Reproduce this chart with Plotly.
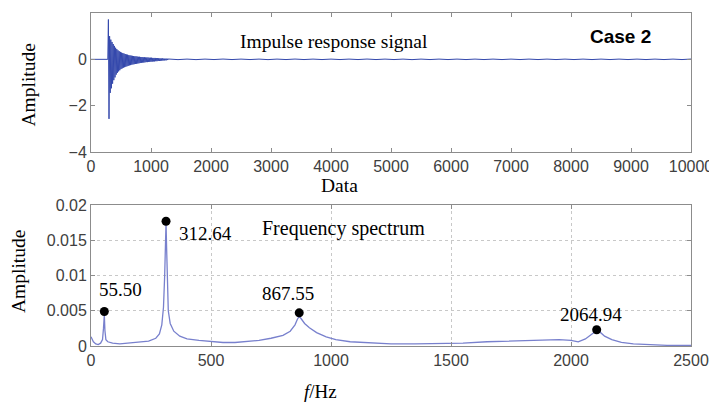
import plotly.graph_objects as go
from plotly.subplots import make_subplots

# ---------------- Impulse response signal (top) ----------------
pre_x = [0, 280]
pre_y = [0.0, 0.0]
burst_x = list(range(290, 1300, 10))
burst_y = [1.72, -2.57, 1.00, -1.45, 0.85, -1.25, 0.75, -1.05, 0.66, -0.90,
           0.58, -0.78, 0.50, -0.66, 0.44, -0.58, 0.39, -0.52, 0.35, -0.47,
           0.32, -0.42, 0.29, -0.39, 0.27, -0.36, 0.25, -0.34, 0.23, -0.32,
           0.21, -0.30, 0.20, -0.28, 0.18, -0.26, 0.17, -0.25, 0.16, -0.23,
           0.15, -0.22, 0.14, -0.21, 0.13, -0.20, 0.13, -0.19, 0.12, -0.18,
           0.11, -0.17, 0.11, -0.16, 0.10, -0.15, 0.10, -0.14, 0.09, -0.14,
           0.09, -0.13, 0.08, -0.12, 0.08, -0.12, 0.08, -0.11, 0.07, -0.11,
           0.07, -0.10, 0.07, -0.10, 0.06, -0.09, 0.06, -0.09, 0.06, -0.08,
           0.05, -0.08, 0.05, -0.07, 0.05, -0.07, 0.04, -0.06, 0.04, -0.06,
           0.04, -0.05, 0.03, -0.05, 0.03, -0.04, 0.03, -0.04, 0.03, -0.03,
           0.02]
tail_x = list(range(1300, 10001, 150))
tail_y = [0.012, -0.012, 0.01, -0.012, 0.01, -0.01, 0.012, -0.01, 0.01, -0.01,
          0.01, -0.012, 0.01, -0.01, 0.012, -0.01, 0.01, -0.01, 0.01, -0.01,
          0.01, -0.01, 0.012, -0.01, 0.01, -0.01, 0.01, -0.012, 0.01, -0.01,
          0.01, -0.01, 0.01, -0.01, 0.01, -0.01, 0.01, -0.01, 0.01, -0.01,
          0.01, -0.01, 0.01, -0.01, 0.01, -0.01, 0.01, -0.01, 0.01, -0.01,
          0.01, -0.01, 0.01, -0.01, 0.01, -0.01, 0.01, -0.01, 0.012]
tail_y = tail_y[:len(tail_x)]

sig_x = pre_x + burst_x + tail_x
sig_y = pre_y + burst_y + tail_y

# ---------------- Frequency spectrum (bottom) ----------------
spec_f = [0, 10, 20, 30, 40, 48, 52, 55.5, 58, 62, 70, 90, 120, 160, 200, 240,
          270, 285, 295, 302, 307, 310, 312.64, 315, 318, 322, 330, 345, 370,
          400, 450, 500, 550, 600, 650, 700, 750, 800, 830, 850, 860, 867.55,
          875, 890, 910, 940, 980, 1020, 1080, 1150, 1250, 1350, 1450, 1550,
          1650, 1750, 1850, 1950, 2000, 2030, 2060, 2080, 2095, 2107, 2120,
          2140, 2170, 2210, 2260, 2320, 2400, 2500]
spec_a = [0.0013, 0.0006, 0.0003, 0.0002, 0.0004, 0.0009, 0.0025, 0.0044,
          0.0022, 0.0009, 0.0006, 0.0004, 0.0003, 0.0004, 0.0005, 0.0007,
          0.0011, 0.0017, 0.0030, 0.0055, 0.0100, 0.0150, 0.0175, 0.0140,
          0.0085, 0.0050, 0.0032, 0.0021, 0.0014, 0.0010, 0.0008, 0.0006,
          0.0005, 0.0005, 0.0006, 0.0008, 0.0011, 0.0015, 0.0021, 0.0030,
          0.0038, 0.0042, 0.0039, 0.0032, 0.0026, 0.0019, 0.0013, 0.0009,
          0.0006, 0.0005, 0.0003, 0.0003, 0.0003, 0.0004, 0.0006, 0.0007,
          0.0008, 0.0009, 0.0008, 0.0006, 0.0010, 0.0015, 0.0020, 0.0022,
          0.0020, 0.0014, 0.0009, 0.0005, 0.0003, 0.0002, 0.0001, 0.0001]

peak_x = [55.5, 312.64, 867.55, 2107]
peak_y = [0.0049, 0.0177, 0.0047, 0.0023]
peak_labels = ["55.50", "312.64", "867.55", "2064.94"]
label_x = [121, 479, 822, 2083]
label_y = [0.0080, 0.0160, 0.0075, 0.0044]

SERIF = "Times New Roman, Liberation Serif, serif"
SANS = "Arial, Liberation Sans, sans-serif"
AXC = "#8c8c8c"

fig = make_subplots(rows=2, cols=1, vertical_spacing=0.1)
fig.add_trace(go.Scatter(x=sig_x, y=sig_y, mode="lines",
                         line=dict(color="rgb(52,72,172)", width=1)), row=1, col=1)
fig.add_trace(go.Scatter(x=spec_f, y=spec_a, mode="lines",
                         line=dict(color="rgb(120,128,205)", width=1.3)), row=2, col=1)
fig.add_trace(go.Scatter(x=peak_x, y=peak_y, mode="markers",
                         marker=dict(color="black", size=9)), row=2, col=1)

axis_common = dict(showline=True, linecolor=AXC, linewidth=1, mirror="ticks",
                   ticks="inside", ticklen=4, tickcolor=AXC, automargin=False,
                   tickfont=dict(family=SANS, size=16, color="#404040"),
                   zeroline=False)

fig.update_xaxes(range=[0, 10000], dtick=1000, tick0=0, showgrid=False,
                 tickformat="d", domain=[0, 1], **axis_common, row=1, col=1)
fig.update_yaxes(range=[-4, 2], dtick=2, tick0=-4, showgrid=False,
                 domain=[0.5826, 1], **axis_common, row=1, col=1)
fig.update_xaxes(range=[0, 2500], dtick=500, tick0=0, showgrid=True,
                 gridcolor="#c8c8c8", griddash="dot", gridwidth=1,
                 tickformat="d", domain=[0, 1], **axis_common, row=2, col=1)
fig.update_yaxes(range=[0, 0.02], dtick=0.005, tick0=0, showgrid=True,
                 gridcolor="#c8c8c8", griddash="dot", gridwidth=1,
                 domain=[0, 0.4234], **axis_common, row=2, col=1)

ann = []
ann.append(dict(x=4042, y=0.75, xref="x", yref="y", text="Impulse response signal",
                showarrow=False, font=dict(family=SERIF, size=19.5, color="black")))
ann.append(dict(x=8817, y=1.0, xref="x", yref="y", text="<b>Case 2</b>",
                showarrow=False, font=dict(family=SANS, size=19, color="black")))
ann.append(dict(x=1054, y=0.0166, xref="x2", yref="y2", text="Frequency spectrum",
                showarrow=False, font=dict(family=SERIF, size=20, color="black")))
for lx, ly, t in zip(label_x, label_y, peak_labels):
    ann.append(dict(x=lx, y=ly, xref="x2", yref="y2", text=t, showarrow=False,
                    font=dict(family=SERIF, size=19, color="black")))
# axis titles (window pixel positions converted to paper fractions below)
ann.append(dict(x=28, y=85.5, xref="paper", yref="paper", text="Amplitude",
                showarrow=False, textangle=-90,
                font=dict(family=SERIF, size=19.5, color="black")))
ann.append(dict(x=18, y=272, xref="paper", yref="paper", text="Amplitude",
                showarrow=False, textangle=-90,
                font=dict(family=SERIF, size=19.5, color="black")))
ann.append(dict(x=339, y=185, xref="paper", yref="paper", text="Data",
                showarrow=False, font=dict(family=SERIF, size=19.5, color="black")))
ann.append(dict(x=320, y=391, xref="paper", yref="paper", text="<i>f</i>/Hz",
                showarrow=False, font=dict(family=SERIF, size=19, color="black")))

# the page body has an 8px margin; compensate so the plot lands where intended
OFF = 8
WIN_W, WIN_H = 717, 407
PL, PR, PT, PB = 91, 691, 13, 346          # plot area in window pixels
W, H = WIN_W - OFF, WIN_H - OFF
L, T = PL - OFF, PT - OFF
R = W - (PR - OFF)
B = H - (PB - OFF)
pw, ph = PR - PL, PB - PT
for a in ann:
    if a["xref"] == "paper":
        a["x"] = (a["x"] - PL) / pw
        a["y"] = (PB - a["y"]) / ph
        a["xanchor"] = "center"
        a["yanchor"] = "middle"

fig.update_layout(width=W, height=H, margin=dict(l=L, r=R, t=T, b=B),
                  showlegend=False, plot_bgcolor="white", paper_bgcolor="white",
                  annotations=ann)

fig.write_html("out.html")
